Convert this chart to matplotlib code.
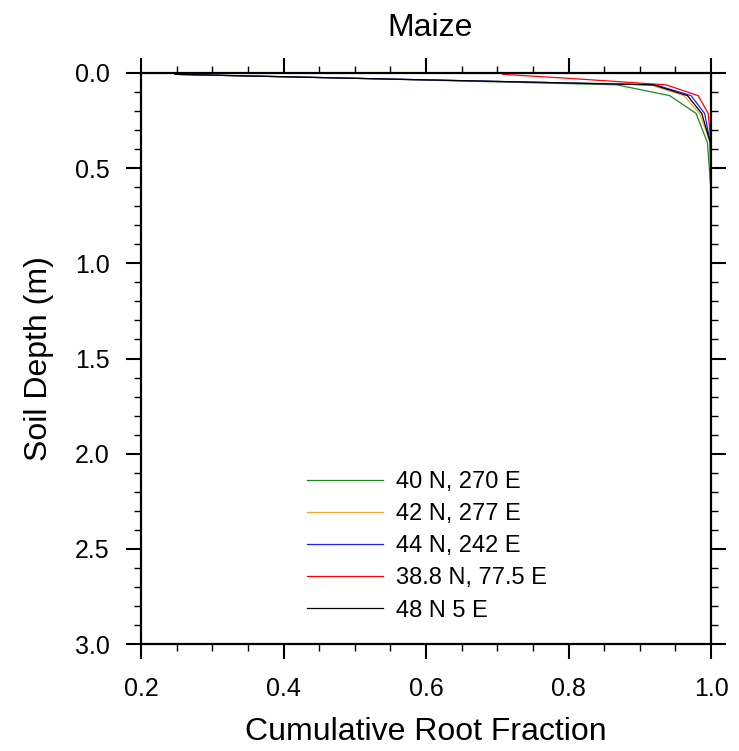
import numpy as np
import matplotlib.pyplot as plt
from matplotlib.ticker import MultipleLocator, FormatStrFormatter

plt.rcParams['font.family'] = ['Liberation Sans', 'DejaVu Sans']

# soil node depths (m)
depth = [0.0071, 0.0279, 0.0623, 0.1189, 0.2122, 0.3661, 0.6198, 1.0380, 1.7276, 2.8646]

# cumulative root fraction at each node
crf_40n = [0.250, 0.500, 0.868, 0.942, 0.979, 0.995, 1.000, 1.000, 1.000, 1.000]
crf_42n = [0.248, 0.498, 0.915, 0.962, 0.984, 0.999, 1.000, 1.000, 1.000, 1.000]
crf_44n = [0.248, 0.500, 0.922, 0.972, 0.991, 0.999, 1.000, 1.000, 1.000, 1.000]
crf_388n = [0.708, 0.800, 0.937, 0.982, 0.996, 1.000, 1.000, 1.000, 1.000, 1.000]
crf_48n = [0.248, 0.500, 0.919, 0.967, 0.987, 0.999, 1.000, 1.000, 1.000, 1.000]

sites = ['40 N, 270 E', '42 N, 277 E', '44 N, 242 E', '38.8 N, 77.5 E', '48 N 5 E']
colors = ['#1a8a1a', '#f0a830', '#2020ff', '#ff0000', '#000000']
series = [crf_40n, crf_42n, crf_44n, crf_388n, crf_48n]

fig = plt.figure(figsize=(7.39, 7.51), dpi=100)
ax = fig.add_axes([141/739, 1-644/751, 570/739, 571/751])

for lab, c, s in zip(sites, colors, series):
    ax.plot(s, depth, color=c, lw=0.9, label=lab)

ax.set_xlim(0.2, 1.0)
ax.set_ylim(3.0, 0.0)
ax.xaxis.set_major_locator(MultipleLocator(0.2))
ax.xaxis.set_minor_locator(MultipleLocator(0.05))
ax.yaxis.set_major_locator(MultipleLocator(0.5))
ax.yaxis.set_minor_locator(MultipleLocator(0.1))
ax.xaxis.set_major_formatter(FormatStrFormatter('%.1f'))
ax.yaxis.set_major_formatter(FormatStrFormatter('%.1f'))

# outward ticks on all four sides, labels only bottom/left
ax.tick_params(which='both', direction='out', top=True, right=True,
               labeltop=False, labelright=False, labelsize=18, colors='black')
ax.tick_params(which='major', length=10.5, width=1.5)
ax.tick_params(which='minor', length=5, width=1.0)
ax.tick_params(axis='x', which='major', pad=13)
ax.tick_params(axis='y', which='major', pad=12)
for sp in ax.spines.values():
    sp.set_linewidth(1.6)

fig.text(430/739, 1-36/751, 'Maize', fontsize=23, ha='center', va='baseline')

ax.set_xlabel('Cumulative Root Fraction', fontsize=23)
ax.xaxis.label.set_va('baseline')
ax.xaxis.set_label_coords(0.5, (644-740)/571)
ax.set_ylabel('Soil Depth (m)', fontsize=23)
ax.yaxis.label.set_va('baseline')
ax.yaxis.set_label_coords((47-141)/570, 0.5)

ax.legend(loc='upper left', bbox_to_anchor=(307/739, 1-471/751),
          bbox_transform=fig.transFigure, frameon=False, fontsize=17,
          handlelength=3.22, handletextpad=0.55, labelspacing=0.43,
          borderpad=0, borderaxespad=0)

fig.savefig('out.png', dpi=100)
